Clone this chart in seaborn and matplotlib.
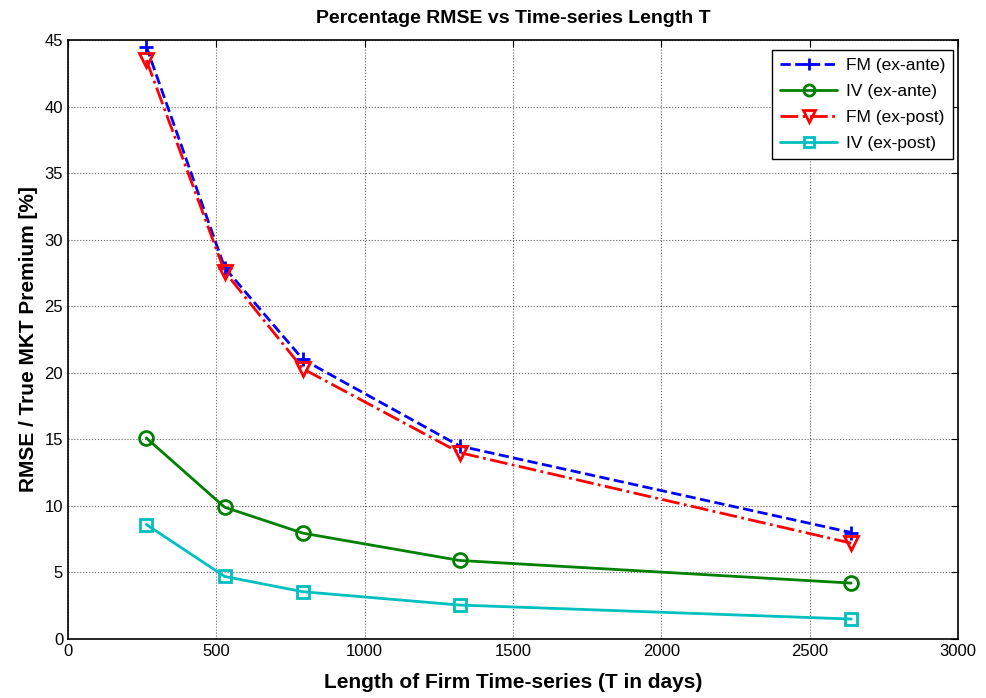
import matplotlib
matplotlib.use("Agg")
import matplotlib.pyplot as plt
import seaborn as sns
import pandas as pd

T = [264, 528, 792, 1320, 2640]
fm_ante = [44.5, 27.9, 21.0, 14.5, 8.0]
iv_ante = [15.1, 9.9, 7.95, 5.9, 4.2]
fm_post = [43.5, 27.6, 20.3, 14.0, 7.2]
iv_post = [8.6, 4.7, 3.55, 2.55, 1.5]

labels = ["FM (ex-ante)", "IV (ex-ante)", "FM (ex-post)", "IV (ex-post)"]
series = [fm_ante, iv_ante, fm_post, iv_post]
colors = ["#0000ff", "#008000", "#ff0000", "#00bfbf"]
styles = ["--", "-", "-.", "-"]
markers = ["+", "o", "v", "s"]

sns.set_style("white")
plt.rcParams["font.family"] = ["Liberation Sans", "DejaVu Sans"]
plt.rcParams["text.color"] = "black"
plt.rcParams["axes.labelcolor"] = "black"

fig = plt.figure(figsize=(9.87, 6.98), dpi=100)
ax = fig.add_axes([68 / 987, 1 - 639 / 698, 890 / 987, 599 / 698])

for lab, ys, c, ls, m in zip(labels, series, colors, styles, markers):
    df = pd.DataFrame({"T": T, "v": ys})
    sns.lineplot(data=df, x="T", y="v", ax=ax, color=c, linestyle=ls, linewidth=2,
                 marker=m, markersize=10 if m != "s" else 9,
                 markerfacecolor="none" if m != "+" else c,
                 markeredgecolor=c, markeredgewidth=2, label=lab)

ax.set_xlim(0, 3000)
ax.set_ylim(0, 45)
ax.set_xticks(range(0, 3001, 500))
ax.set_yticks(range(0, 46, 5))
ax.grid(True, color="black", linestyle=":", linewidth=0.8, alpha=0.6)
ax.tick_params(direction="in", length=5, labelsize=12, colors="black", labelcolor="black",
               top=True, right=True)
for s in ax.spines.values():
    s.set_color("black")
    s.set_linewidth(1.2)
    s.set_visible(True)

ax.set_title("Percentage RMSE vs Time-series Length T", fontsize=14, fontweight="bold",
             pad=12, color="black")
ax.set_xlabel("Length of Firm Time-series (T in days)", fontsize=15, fontweight="bold",
              labelpad=10, color="black")
ax.set_ylabel("RMSE / True MKT Premium [%]", fontsize=15, fontweight="bold", labelpad=5,
              color="black")

leg = ax.legend(loc="upper right", bbox_to_anchor=(0.9944, 0.983), borderaxespad=0,
                fontsize=12.5, frameon=True, fancybox=False, edgecolor="black", framealpha=1,
                handlelength=3.3, handletextpad=0.5, borderpad=0.45, labelspacing=0.62,
                markerscale=0.8)
leg.get_frame().set_linewidth(1.0)
for t in leg.get_texts():
    t.set_color("black")

fig.savefig("out.png", dpi=100, facecolor="white")
